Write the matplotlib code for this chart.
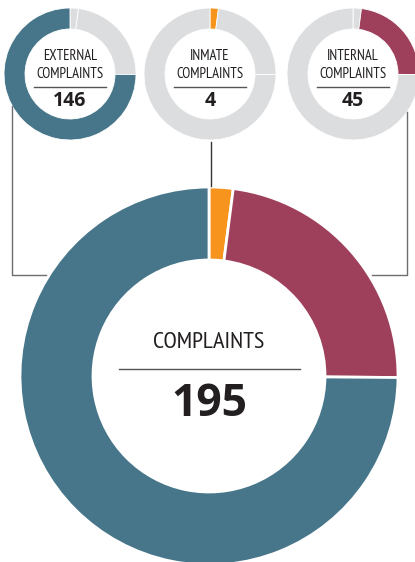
import matplotlib.pyplot as plt
from matplotlib import font_manager

# data
categories = ["INMATE", "INTERNAL", "EXTERNAL"]
counts = [4, 45, 146]
total = sum(counts)
colors = ["#f7941d", "#9e405c", "#47768a"]
gray = "#dcdddf"

H = 562.0

names = {f.name for f in font_manager.fontManager.ttflist}
narrow = "DejaVu Sans"
for cand in ["PT Sans Narrow", "Roboto Condensed", "Open Sans Condensed",
             "Archivo Narrow", "Fira Sans Condensed", "Liberation Sans Narrow"]:
    if cand in names:
        narrow = cand
        break
bold = "Open Sans" if "Open Sans" in names else "DejaVu Sans"

fig = plt.figure(figsize=(4.15, 5.62), dpi=100)
ax = fig.add_axes([0, 0, 1, 1])


def y(px):
    return H - px


# small donuts, one per category, others greyed out
small = [(2, 70, "EXTERNAL"), (0, 210, "INMATE"), (1, 353, "INTERNAL")]
for idx, cx, name in small:
    cols = [colors[i] if i == idx else gray for i in range(len(counts))]
    ax.pie(counts, colors=cols, center=(cx, y(74)), radius=66, startangle=90,
           counterclock=False, frame=True,
           wedgeprops=dict(width=21, edgecolor="white", linewidth=0.6))
    ax.text(cx, y(56), name, ha="center", va="center", fontsize=10.5,
            family=narrow, color="#231f20")
    ax.text(cx, y(74), "COMPLAINTS", ha="center", va="center", fontsize=10.5,
            family=narrow, color="#231f20")
    ax.plot([cx - 36, cx + 36], [y(87), y(87)], color="#555555", lw=1)
    ax.text(cx, y(101), str(counts[idx]), ha="center", va="center",
            fontsize=14, fontweight="bold", family=bold, color="#231f20")

# big donut
ax.pie(counts, colors=colors, center=(209, y(376)), radius=189, startangle=90,
       counterclock=False, frame=True,
       wedgeprops=dict(width=73, edgecolor="white", linewidth=2))
ax.text(209, y(343), "COMPLAINTS", ha="center", va="center", fontsize=17.5,
        family=narrow, color="#231f20")
ax.plot([119, 300], [y(369), y(369)], color="#555555", lw=1)
ax.text(209, y(404), str(total), ha="center", va="center", fontsize=32,
        fontweight="bold", family=bold, color="#231f20")

# connector lines
line_kw = dict(color="#6d6e71", lw=1)
ax.plot([12, 12, 46], [y(106), y(275), y(275)], **line_kw)
ax.plot([211, 211], [y(142), y(186)], color="#333333", lw=1)
ax.plot([407, 407, 372], [y(112), y(275), y(275)], **line_kw)

ax.set_xlim(0, 415)
ax.set_ylim(0, H)
ax.set_aspect("auto")
ax.axis("off")

fig.savefig("out.png", dpi=100)
